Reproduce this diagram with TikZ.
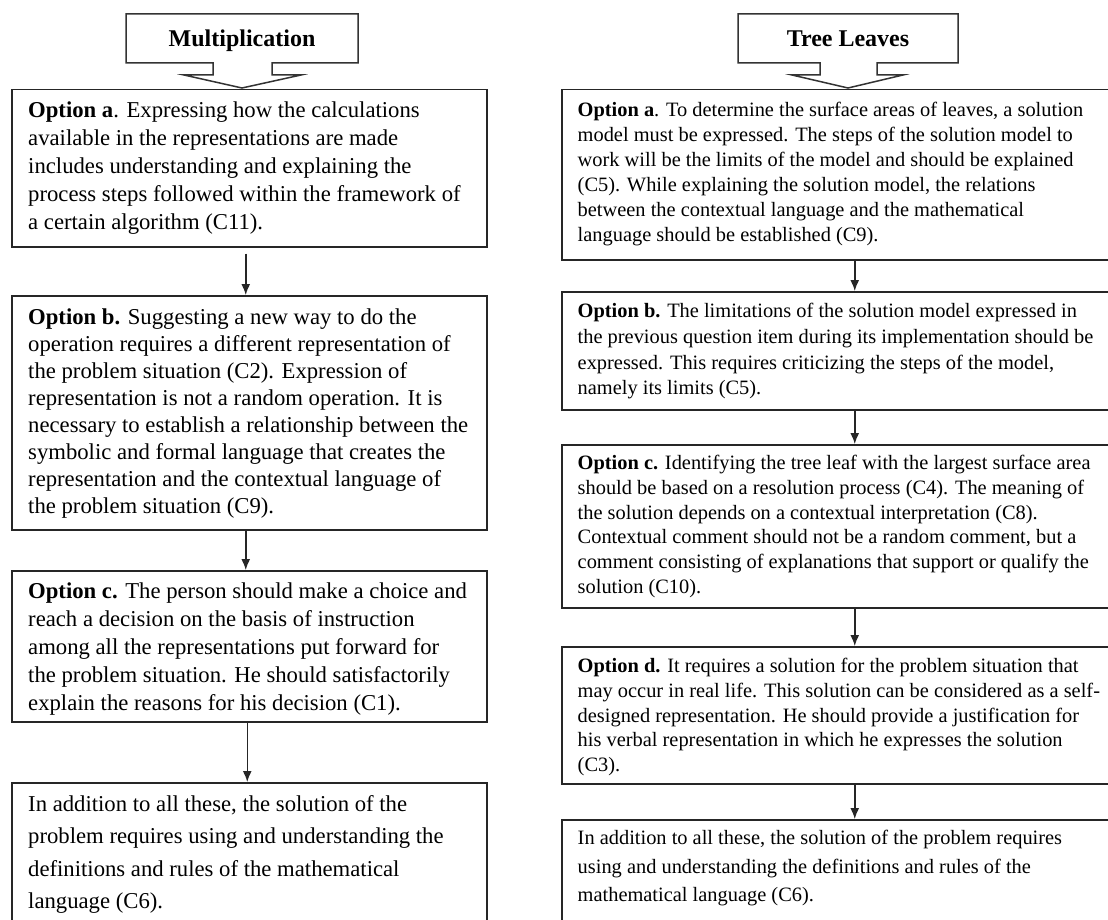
\documentclass[tikz,border=0pt]{standalone}
\usepackage{fontspec}
\setmainfont{Liberation Serif}
\usetikzlibrary{arrows.meta}
\begin{document}
\begin{tikzpicture}[x=1pt,y=1pt,
  box/.style={draw=black!85, line width=1.5pt, anchor=north west, inner sep=0pt},
  txt/.style={anchor=north west, inner sep=0pt, align=left, text=black},
  lfont/.style={font=\fontsize{22.7}{#1}\selectfont},
  rfont/.style={font=\fontsize{20.4}{#1}\selectfont},
  flow/.style={draw=black!85, line width=1.5pt, -{Latex[length=11pt,width=9pt]}},
  callout/.style={draw=black!80, line width=1.5pt, fill=white, line join=miter},
  title/.style={anchor=base, inner sep=0pt, font=\fontsize{24}{28}\selectfont\bfseries}
]
\useasboundingbox (0,0) rectangle (1108,-920);
\fill[white] (0,0) rectangle (1108,-920);

% ---------- callouts ----------
\draw[callout] (126,-14) -- (358,-14) -- (358,-63) -- (272,-63) -- (272,-75) -- (301,-75)
  -- (242,-88) -- (184,-75) -- (213,-75) -- (213,-63) -- (126,-63) -- cycle;
\draw[callout] (738,-14) -- (958,-14) -- (958,-63) -- (877,-63) -- (877,-75) -- (903,-75)
  -- (848,-88) -- (792,-75) -- (820,-75) -- (820,-63) -- (738,-63) -- cycle;
\node[title] (t1) at (242,-47) {Multiplication};
\node[title] (t2) at (848,-47) {Tree Leaves};

% ---------- left column boxes ----------
\node[box, minimum width=475, minimum height=157] (la) at (11,-89) {};
\node[box, minimum width=475, minimum height=234] (lb) at (11,-295) {};
\node[box, minimum width=475, minimum height=151] (lc) at (11,-570) {};
\node[box, minimum width=475, minimum height=150] (ld) at (11,-782) {};

\node[txt, lfont=28] (lat) at (28,-97.4) {\strut\textbf{Option a}. Expressing how the calculations\\
available in the representations are made\\
includes understanding and explaining the\\
process steps followed within the framework of\\
a certain algorithm (C11).};

\node[txt, lfont=27] (lbt) at (28,-305.1) {\strut\textbf{Option b.} Suggesting a new way to do the\\
operation requires a different representation of\\
the problem situation (C2). Expression of\\
representation is not a random operation. It is\\
necessary to establish a relationship between the\\
symbolic and formal language that creates the\\
representation and the contextual language of\\
the problem situation (C9).};

\node[txt, lfont=28] (lct) at (28,-578.4) {\strut\textbf{Option c.} The person should make a choice and\\
reach a decision on the basis of instruction\\
among all the representations put forward for\\
the problem situation. He should satisfactorily\\
explain the reasons for his decision (C1).};

\node[txt, lfont=32.5] (ldt) at (28,-788.3) {\strut In addition to all these, the solution of the\\
problem requires using and understanding the\\
definitions and rules of the mathematical\\
language (C6).};

% ---------- right column boxes ----------
\node[box, minimum width=586, minimum height=170] (ra) at (561,-89) {};
\node[box, minimum width=586, minimum height=118] (rb) at (561,-291) {};
\node[box, minimum width=586, minimum height=163] (rc) at (561,-444) {};
\node[box, minimum width=586, minimum height=137] (rd) at (561,-646) {};
\node[box, minimum width=586, minimum height=130] (re) at (561,-819) {};

\node[txt, rfont=25] (rat) at (577.5,-98.5) {\strut\textbf{Option a}. To determine the surface areas of leaves, a solution\\
model must be expressed. The steps of the solution model to\\
work will be the limits of the model and should be explained\\
(C5). While explaining the solution model, the relations\\
between the contextual language and the mathematical\\
language should be established (C9).};

\node[txt, rfont=25.7] (rbt) at (577.5,-299.5) {\strut\textbf{Option b.} The limitations of the solution model expressed in\\
the previous question item during its implementation should be\\
expressed. This requires criticizing the steps of the model,\\
namely its limits (C5).};

\node[txt, rfont=24.7] (rct) at (577.5,-452.2) {\strut\textbf{Option c.} Identifying the tree leaf with the largest surface area\\
should be based on a resolution process (C4). The meaning of\\
the solution depends on a contextual interpretation (C8).\\
Contextual comment should not be a random comment, but a\\
comment consisting of explanations that support or qualify the\\
solution (C10).};

\node[txt, rfont=24.7] (rdt) at (577.5,-655.2) {\strut\textbf{Option d.} It requires a solution for the problem situation that\\
may occur in real life. This solution can be considered as a self-\\
designed representation. He should provide a justification for\\
his verbal representation in which he expresses the solution\\
(C3).};

\node[txt, rfont=28.5] (ret) at (577.5,-824.6) {\strut In addition to all these, the solution of the problem requires\\
using and understanding the definitions and rules of the\\
mathematical language (C6).};

% ---------- connectors ----------
\draw[flow] ([xshift=-3.5pt,yshift=-6pt]la.south) -- ([xshift=-3.5pt]lb.north);
\draw[flow] ([xshift=-3.5pt]lb.south) -- ([xshift=-3.5pt]lc.north);
\draw[flow] ([xshift=-2pt]lc.south) -- ([xshift=-2pt]ld.north);
\draw[flow] (ra.south) -- (rb.north);
\draw[flow] (rb.south) -- (rc.north);
\draw[flow] (rc.south) -- (rd.north);
\draw[flow] (rd.south) -- (re.north);
\end{tikzpicture}
\end{document}
